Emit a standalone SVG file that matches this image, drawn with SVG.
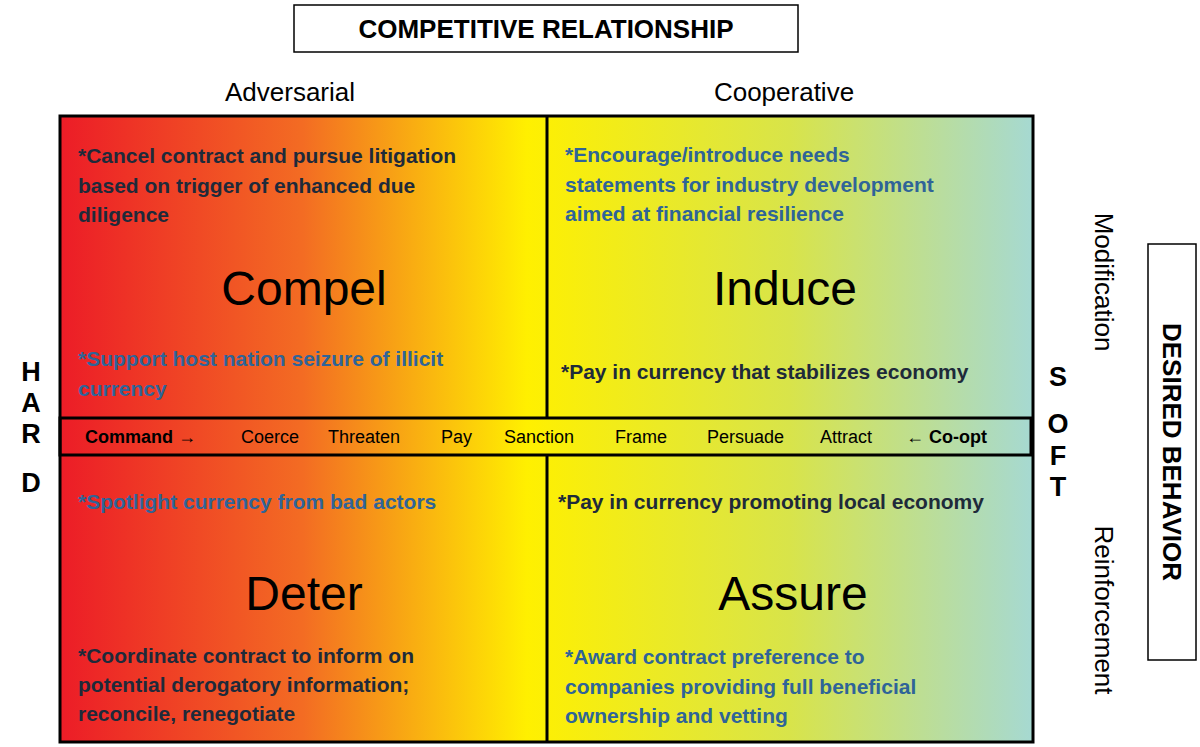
<svg xmlns="http://www.w3.org/2000/svg" width="1200" height="747" viewBox="0 0 1200 747">
<defs>
<linearGradient id="g" x1="60" y1="0" x2="1033" y2="0" gradientUnits="userSpaceOnUse">
<stop offset="0" stop-color="#ec1c27"/>
<stop offset="0.25" stop-color="#f36c23"/>
<stop offset="0.48" stop-color="#fff000"/>
<stop offset="0.75" stop-color="#d8e44a"/>
<stop offset="1" stop-color="#a6d9d2"/>
</linearGradient>
<style>
text{font-family:"Liberation Sans",Arial,sans-serif}
.b{font-weight:bold;font-size:21px}
.blue{fill:#2f6498}
.dk{fill:#1e2a3a}
.big{font-size:48px;text-anchor:middle;fill:#000}
.mid{font-size:18px;fill:#000}
.ax{font-size:26px;fill:#000}
.hs{font-weight:bold;font-size:27px;fill:#000;text-anchor:middle}
.ln{fill:none;stroke:#000;stroke-width:3}
</style>
</defs>
<rect width="1200" height="747" fill="#fff"/>
<g id="title"><rect x="294" y="5" width="504" height="47" fill="#fff" stroke="#000" stroke-width="1.5"/>
<text x="546" y="38" text-anchor="middle" font-weight="bold" font-size="26">COMPETITIVE RELATIONSHIP</text></g>
<text x="290" y="101" text-anchor="middle" class="ax">Adversarial</text>
<text x="784" y="101" text-anchor="middle" class="ax">Cooperative</text>
<g id="grid">
<rect x="60" y="116" width="973" height="626" fill="url(#g)" class="ln" style="fill:url(#g)"/>
<line x1="547" y1="116" x2="547" y2="418" class="ln"/>
<line x1="547" y1="455" x2="547" y2="742" class="ln"/>
<rect x="60" y="418" width="971" height="37" class="ln"/>
</g>
<g id="compel">
<text class="b dk" x="78" y="163">*Cancel contract and pursue litigation</text>
<text class="b dk" x="78" y="193">based on trigger of enhanced due</text>
<text class="b dk" x="78" y="222">diligence</text>
<text class="big" x="304" y="305">Compel</text>
<text class="b blue" x="78" y="366">*Support host nation seizure of illicit</text>
<text class="b blue" x="78" y="396">currency</text>
</g>
<g id="induce">
<text class="b blue" x="565" y="162">*Encourage/introduce needs</text>
<text class="b blue" x="565" y="192">statements for industry development</text>
<text class="b blue" x="565" y="221">aimed at financial resilience</text>
<text class="big" x="785" y="305">Induce</text>
<text class="b dk" x="561" y="379">*Pay in currency that stabilizes economy</text>
</g>
<g id="spectrum">
<text class="mid" x="85" y="443" font-weight="bold">Command →</text>
<text class="mid" x="241" y="443">Coerce</text>
<text class="mid" x="328" y="443">Threaten</text>
<text class="mid" x="441" y="443">Pay</text>
<text class="mid" x="504" y="443">Sanction</text>
<text class="mid" x="615" y="443">Frame</text>
<text class="mid" x="707" y="443">Persuade</text>
<text class="mid" x="820" y="443">Attract</text>
<text class="mid" x="906" y="443">← <tspan font-weight="bold">Co-opt</tspan></text>
</g>
<g id="deter">
<text class="b blue" x="78" y="509">*Spotlight currency from bad actors</text>
<text class="big" x="304" y="610">Deter</text>
<text class="b dk" x="78" y="663">*Coordinate contract to inform on</text>
<text class="b dk" x="78" y="692">potential derogatory information;</text>
<text class="b dk" x="78" y="721">reconcile, renegotiate</text>
</g>
<g id="assure">
<text class="b dk" x="558" y="509">*Pay in currency promoting local economy</text>
<text class="big" x="793" y="610">Assure</text>
<text class="b blue" x="565" y="664">*Award contract preference to</text>
<text class="b blue" x="565" y="694">companies providing full beneficial</text>
<text class="b blue" x="565" y="723">ownership and vetting</text>
</g>
<g id="hard">
<text class="hs" x="31" y="381">H</text><text class="hs" x="31" y="412">A</text><text class="hs" x="31" y="443">R</text><text class="hs" x="31" y="492">D</text>
</g>
<g id="soft">
<text class="hs" x="1058" y="386">S</text><text class="hs" x="1058" y="433">O</text><text class="hs" x="1058" y="465">F</text><text class="hs" x="1058" y="496">T</text>
</g>
<text class="ax" transform="translate(1095,282) rotate(90)" text-anchor="middle">Modification</text>
<text class="ax" transform="translate(1095,610) rotate(90)" text-anchor="middle">Reinforcement</text>
<g id="desired"><rect x="1148" y="244" width="48" height="416" fill="#fff" stroke="#000" stroke-width="1.5"/>
<text transform="translate(1163,452) rotate(90)" text-anchor="middle" font-weight="bold" font-size="26">DESIRED BEHAVIOR</text></g>
</svg>
